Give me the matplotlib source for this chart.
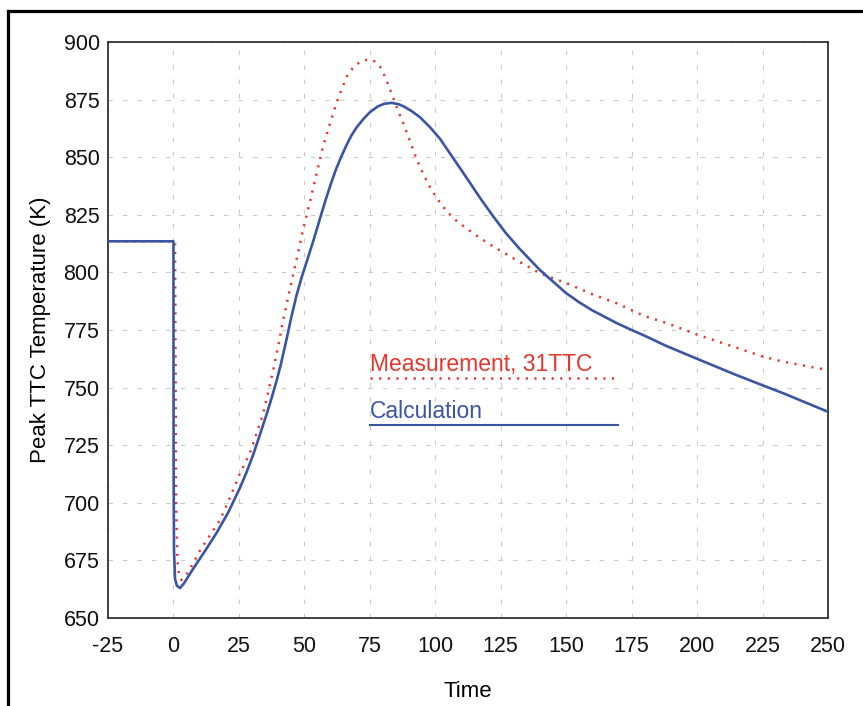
import matplotlib
matplotlib.use("Agg")
import matplotlib.pyplot as plt
from matplotlib.lines import Line2D

plt.rcParams['font.family'] = ['Liberation Sans', 'DejaVu Sans']
plt.rcParams['axes.unicode_minus'] = False

# Calculated peak TTC temperature
calc_time = [-25, 0, 0.05, 0.2, 0.6, 1.3, 2.5, 4, 7.6, 12, 16.5, 21, 25.4, 28,
             30.5, 33, 35.6, 37.5, 39.4, 41, 43.2, 45, 47, 49, 51, 53.5, 56, 58,
             60, 62, 64, 66, 68, 70, 72.5, 75, 78, 80.5, 83.3, 86, 88, 91, 94.2,
             98, 101.8, 106, 112, 117, 122.2, 127, 132, 136.2, 140, 145, 150,
             155, 160, 169.3, 175, 180, 188.4, 200, 213.8, 225, 233, 250]
calc_temp = [813.5, 813.5, 720, 680, 667, 664, 663, 665, 671.5, 679, 687, 696,
             706.5, 713.5, 721, 729.5, 738.5, 745.5, 753, 760, 771, 780.5, 790,
             798, 805, 814, 823.5, 831, 838, 844.5, 850, 855, 859.5, 863, 866.5,
             869.5, 872, 873.2, 873.6, 873, 872, 870, 867.3, 863, 858, 851, 841,
             832.5, 824.2, 817, 810.5, 805.5, 801, 796, 791, 787, 783.5, 778,
             775, 772.5, 768, 762.5, 756, 751, 747.5, 739.5]

# Measured peak temperature, thermocouple 31TTC
meas_time = [-25, 0.6, 0.8, 1.0, 1.5, 2.2, 3.1, 5.7, 10, 14, 17.8, 21.5, 25.4,
             29.2, 34.3, 38.1, 40, 41.9, 45.5, 47.5, 49.6, 52, 54.7, 57, 59.8,
             63, 66.2, 69, 71.9, 75, 77, 78.9, 81, 83.3, 85.5, 87.8, 90.5, 92.9,
             95.5, 98, 101, 104.4, 108, 112, 117, 122.2, 130, 140, 150.2, 160,
             169.3, 180, 188.4, 200, 213.8, 225, 233, 250]
meas_temp = [813.5, 813.5, 760, 700, 675, 668, 666.5, 670, 679, 686, 692.5, 702,
             712.8, 721.5, 738.8, 757.6, 768, 779.3, 798, 808, 819, 830, 843,
             854, 864.7, 876, 885, 889.5, 891.8, 892.5, 891.5, 889.3, 884.5,
             877.7, 871, 864.7, 856.5, 849, 842.5, 837, 831.5, 826.5, 822.5,
             819, 815, 811.2, 806, 799.6, 795.3, 790.5, 786.6, 781, 778, 773,
             767.8, 763.5, 761.2, 757.6]

x_ticks = list(range(-25, 251, 25))
y_ticks = list(range(650, 901, 25))

RED = '#e2372c'
BLUE = '#3a55a4'
DOTS = (0, (0.85, 2.6))

fig = plt.figure(figsize=(8.63, 7.06), dpi=100)
ax = fig.add_axes([108 / 863, 1 - 618 / 706, 720 / 863, 576 / 706])

ax.plot(meas_time, meas_temp, color=RED, lw=1.8, linestyle=DOTS, zorder=3)
ax.plot(calc_time, calc_temp, color=BLUE, lw=1.9, zorder=4)

ax.set_xlim(-25, 250)
ax.set_ylim(650, 900)
ax.set_xticks(x_ticks)
ax.set_yticks(y_ticks)
ax.tick_params(length=0, labelsize=15.5, colors='#111111')
ax.tick_params(axis='x', pad=13)
ax.tick_params(axis='y', pad=6)

ax.grid(True, color='#cacaca', lw=0.8, linestyle=(0, (4, 9)))
for s in ax.spines.values():
    s.set_color('#333333')
    s.set_linewidth(1.3)

ax.set_xlabel('Time', fontsize=16, labelpad=17)
ax.set_ylabel('Peak TTC Temperature (K)', fontsize=16, labelpad=9)

# In-plot key: label text sitting on its line sample
ax.add_line(Line2D([0.364, 0.708], [0.4167, 0.4167], transform=ax.transAxes,
                   color=RED, lw=1.8, linestyle=DOTS, zorder=5))
ax.text(0.364, 0.421, 'Measurement, 31TTC', transform=ax.transAxes,
        color=RED, fontsize=16.5, ha='left', va='bottom', zorder=5)
ax.add_line(Line2D([0.364, 0.708], [0.335, 0.335], transform=ax.transAxes,
                   color=BLUE, lw=1.5, zorder=5))
ax.text(0.364, 0.338, 'Calculation', transform=ax.transAxes,
        color=BLUE, fontsize=16.5, ha='left', va='bottom', zorder=5)

# Outer frame around the figure
fig.add_artist(Line2D([8 / 863, 8 / 863], [0, 1 - 11 / 706], transform=fig.transFigure,
                      color='black', lw=2.3))
fig.add_artist(Line2D([8 / 863, 1], [1 - 11 / 706, 1 - 11 / 706], transform=fig.transFigure,
                      color='black', lw=2.3))

fig.savefig('out.png', dpi=100)
